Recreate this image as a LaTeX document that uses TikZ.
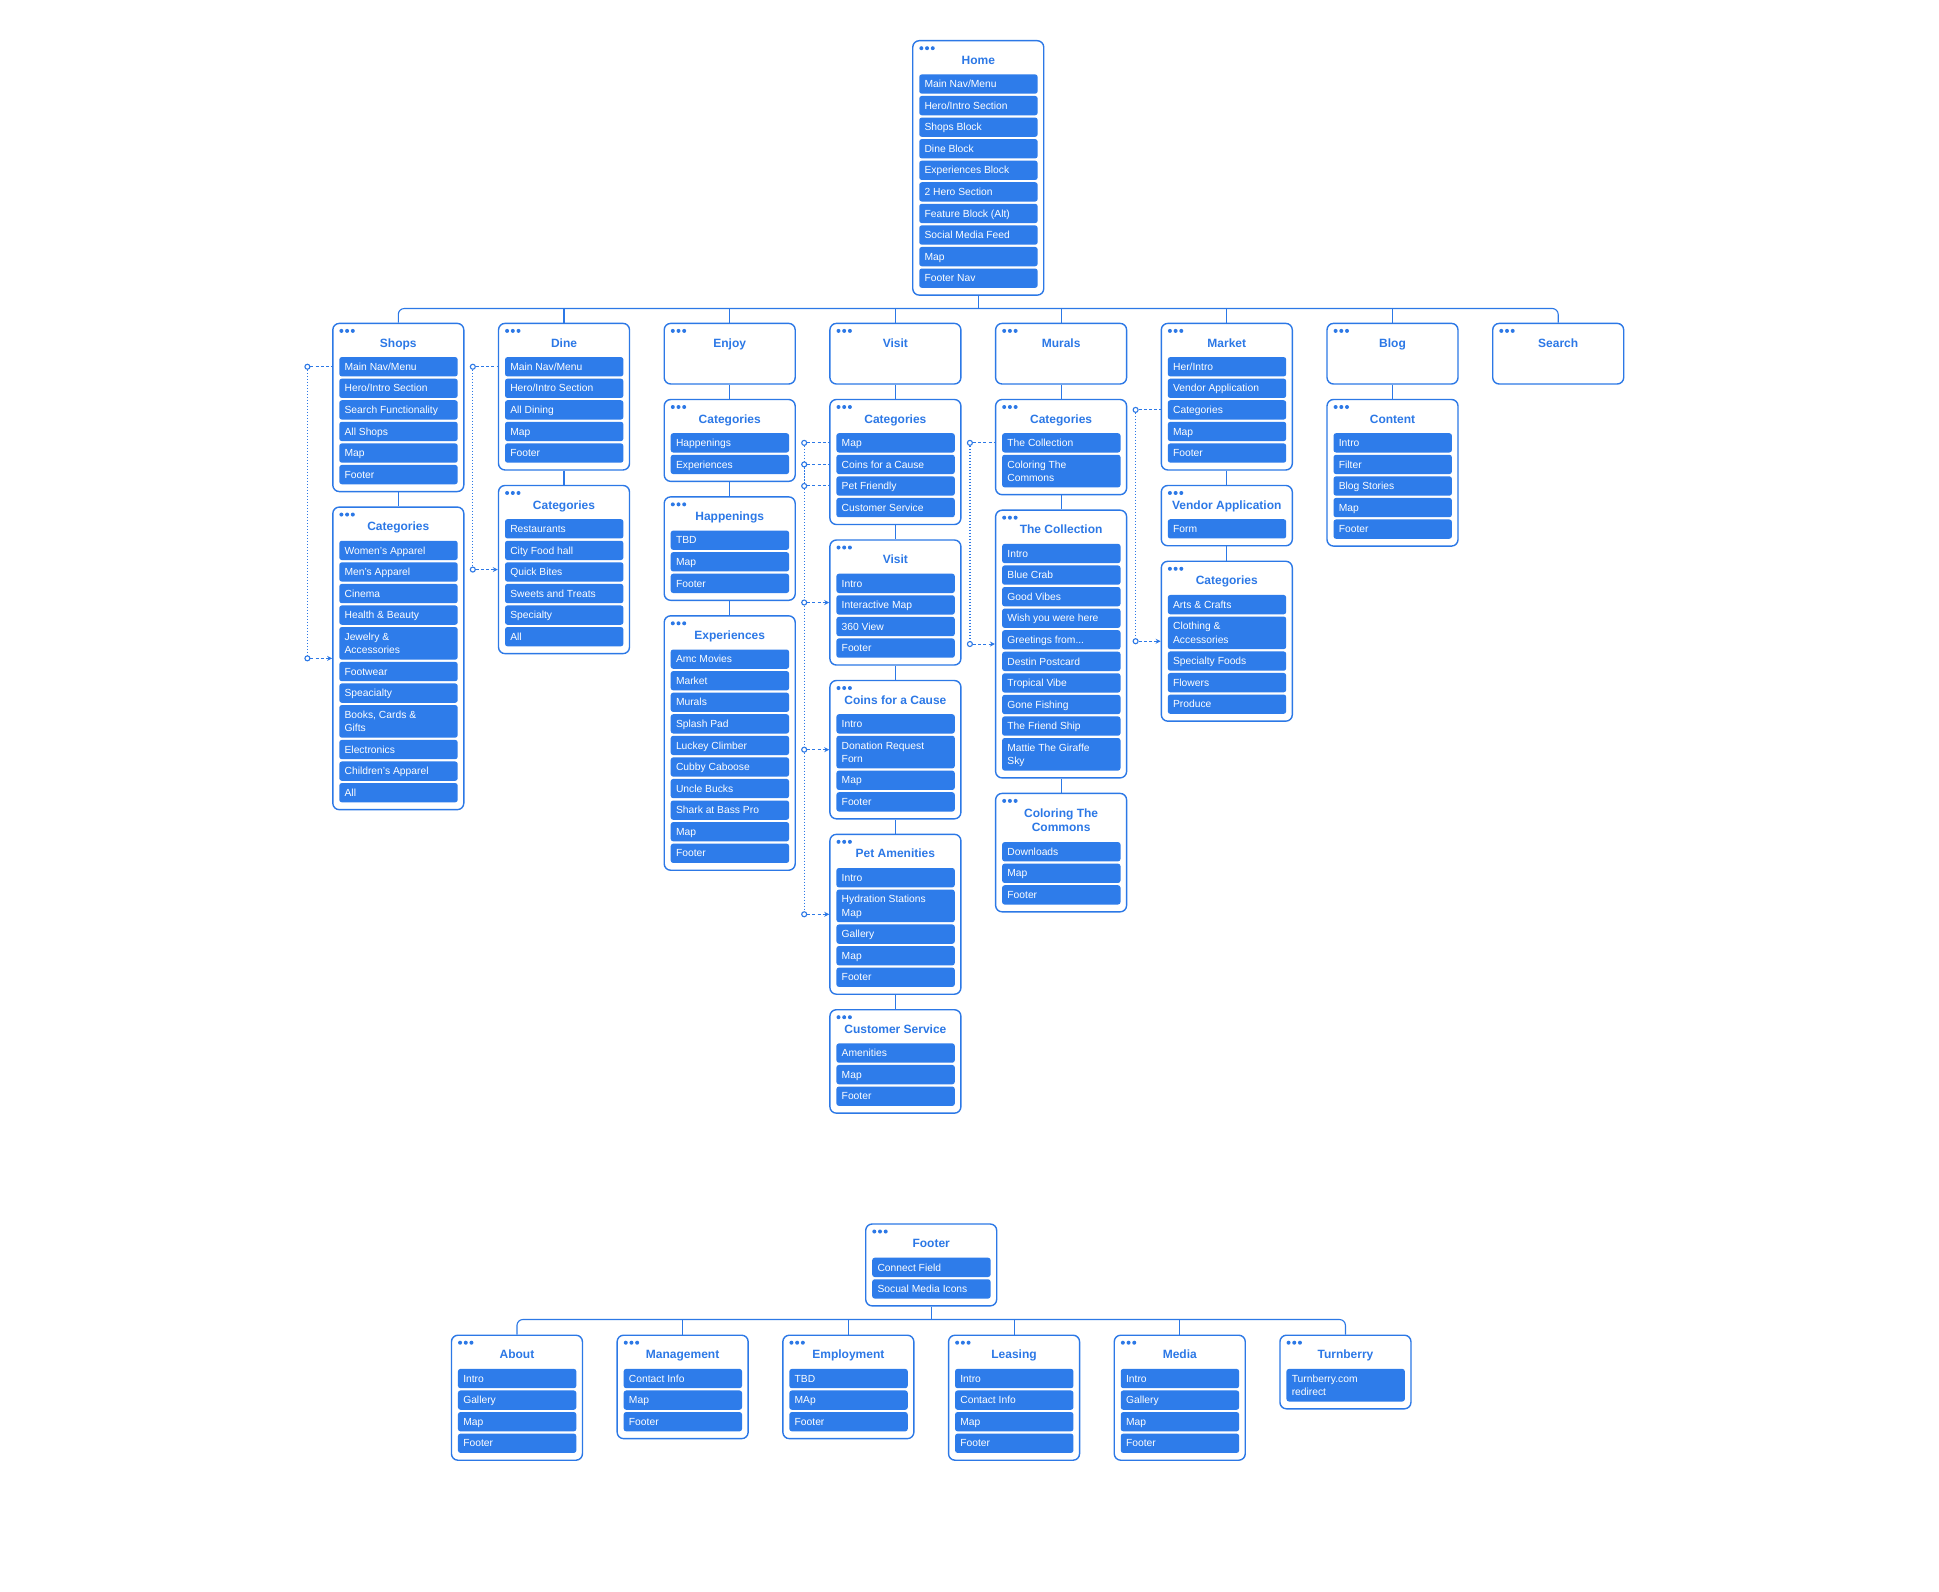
\documentclass[tikz,border=0pt]{standalone}
\usepackage{fontspec}
\setmainfont{Liberation Sans}
\usetikzlibrary{arrows.meta}
\definecolor{bl}{RGB}{46,124,234}
\definecolor{blo}{RGB}{44,120,230}

% ---------- box building macros ----------
\newcommand\BoxDots{%
  \foreach \i in {0,1,2}{\fill[blo] ({\bxcx-65.5+8.6+\i*5.7},{\bxtop+8.2}) circle (2pt);}%
}
\newcommand\BoxStart[4]{% name, cx, top, title
  \xdef\bxname{#1}%
  \pgfmathsetmacro\tmpa{#2}\xdef\bxcx{\tmpa}%
  \pgfmathsetmacro\tmpa{#3}\xdef\bxtop{\tmpa}%
  \pgfmathsetmacro\tmpa{#3+34.2}\xdef\cury{\tmpa}%
  \gdef\itn{0}%
  \node[ttl] (#1-t) at (\bxcx,\bxtop+20) {#4};
  \BoxDots
}
\newcommand\BoxStartTwo[5]{% name, cx, top, title line 1, title line 2
  \xdef\bxname{#1}%
  \pgfmathsetmacro\tmpa{#2}\xdef\bxcx{\tmpa}%
  \pgfmathsetmacro\tmpa{#3}\xdef\bxtop{\tmpa}%
  \pgfmathsetmacro\tmpa{#3+34.2+15}\xdef\cury{\tmpa}%
  \gdef\itn{0}%
  \node[ttl] (#1-t) at (\bxcx,\bxtop+20) {#4};
  \node[ttl] (#1-tb) at (\bxcx,\bxtop+34.6) {#5};
  \BoxDots
}
\newcommand\Itm[1]{%
  \pgfmathtruncatemacro\tmpn{\itn+1}\xdef\itn{\tmpn}%
  \node[itm, minimum height=19.3pt, anchor=north west] (\bxname-\itn) at (\bxcx-59.2,\cury) {};
  \node[itt, anchor=base west] (\bxname-\itn-x) at (\bxcx-53.9,\cury+13.5) {#1};
  \pgfmathsetmacro\tmpa{\cury+21.57}\xdef\cury{\tmpa}%
}
\newcommand\ItmTwo[2]{%
  \pgfmathtruncatemacro\tmpn{\itn+1}\xdef\itn{\tmpn}%
  \node[itm, minimum height=32.6pt, anchor=north west] (\bxname-\itn) at (\bxcx-59.2,\cury) {};
  \node[itt, anchor=base west] (\bxname-\itn-x) at (\bxcx-53.9,\cury+13.5) {#1};
  \node[itt, anchor=base west] (\bxname-\itn-y) at (\bxcx-53.9,\cury+26.8) {#2};
  \pgfmathsetmacro\tmpa{\cury+34.87}\xdef\cury{\tmpa}%
}
\newcommand\BoxEnd{%
  \pgfmathsetmacro\tmpa{\cury-2.27+6.8}\xdef\lastbottom{\tmpa}%
  \pgfmathsetmacro\tmph{\lastbottom-\bxtop}%
  \node[bxs, minimum height=\tmph pt, anchor=north] (\bxname) at (\bxcx,\bxtop) {};
}
\newcommand\BoxEndEmpty{%
  \pgfmathsetmacro\tmpa{\bxtop+60.6}\xdef\lastbottom{\tmpa}%
  \node[bxs, minimum height=60.6pt, anchor=north] (\bxname) at (\bxcx,\bxtop) {};
}

\begin{document}
\begin{tikzpicture}[x=1pt,y=-1pt,
  bxs/.style={draw=blo, line width=1.4pt, rounded corners=6.5pt, inner sep=0pt, minimum width=131pt},
  itm/.style={fill=bl, rounded corners=2.5pt, inner sep=0pt, minimum width=118.4pt},
  itt/.style={text=white, font=\fontsize{10.3}{13}\selectfont, inner sep=0pt},
  ttl/.style={text=blo, font=\bfseries\fontsize{12}{14}\selectfont, inner sep=0pt, text height=8.6pt, text depth=0pt},
  ln/.style={draw=blo, line width=1.1pt},
  hd/.style={draw=blo, line width=1pt, dash pattern=on 3pt off 2.2pt},
  vd/.style={draw=blo, line width=1.2pt, dash pattern=on 1.3pt off 1.7pt},
  port/.style={circle, draw=blo, fill=white, line width=1.1pt, inner sep=0pt, minimum size=5pt},
  arrowend/.style={-{Stealth[length=5pt,width=5pt]}}
]
\fill[white] (0,0) rectangle (1939,1592);
\useasboundingbox (0,0) rectangle (1939,1592);

% ---------------- Home ----------------
\BoxStart{Home}{978.25}{40}{Home}
\Itm{Main Nav/Menu}\Itm{Hero/Intro Section}\Itm{Shops Block}\Itm{Dine Block}
\Itm{Experiences Block}\Itm{2 Hero Section}\Itm{Feature Block (Alt)}
\Itm{Social Media Feed}\Itm{Map}\Itm{Footer Nav}
\BoxEnd

% ---------------- Shops ----------------
\BoxStart{Shops}{398.3}{322.7}{Shops}
\Itm{Main Nav/Menu}\Itm{Hero/Intro Section}\Itm{Search Functionality}
\Itm{All Shops}\Itm{Map}\Itm{Footer}
\BoxEnd
\BoxStart{ShopsCat}{398.3}{\lastbottom+15.5}{Categories}
\Itm{Women’s Apparel}\Itm{Men’s Apparel}\Itm{Cinema}\Itm{Health \& Beauty}
\ItmTwo{Jewelry \&}{Accessories}\Itm{Footwear}\Itm{Speacialty}
\ItmTwo{Books, Cards \&}{Gifts}\Itm{Electronics}\Itm{Children’s Apparel}\Itm{All}
\BoxEnd

% ---------------- Dine ----------------
\BoxStart{Dine}{564.0}{322.7}{Dine}
\Itm{Main Nav/Menu}\Itm{Hero/Intro Section}\Itm{All Dining}\Itm{Map}\Itm{Footer}
\BoxEnd
\BoxStart{DineCat}{564.0}{\lastbottom+15.5}{Categories}
\Itm{Restaurants}\Itm{City Food hall}\Itm{Quick Bites}\Itm{Sweets and Treats}
\Itm{Specialty}\Itm{All}
\BoxEnd

% ---------------- Enjoy ----------------
\BoxStart{Enjoy}{729.7}{322.7}{Enjoy}
\BoxEndEmpty
\BoxStart{EnjoyCat}{729.7}{\lastbottom+15.5}{Categories}
\Itm{Happenings}\Itm{Experiences}
\BoxEnd
\BoxStart{Happ}{729.7}{\lastbottom+15.5}{Happenings}
\Itm{TBD}\Itm{Map}\Itm{Footer}
\BoxEnd
\BoxStart{Exper}{729.7}{\lastbottom+15.5}{Experiences}
\Itm{Amc Movies}\Itm{Market}\Itm{Murals}\Itm{Splash Pad}\Itm{Luckey Climber}
\Itm{Cubby Caboose}\Itm{Uncle Bucks}\Itm{Shark at Bass Pro}\Itm{Map}\Itm{Footer}
\BoxEnd

% ---------------- Visit ----------------
\BoxStart{Visit}{895.4}{322.7}{Visit}
\BoxEndEmpty
\BoxStart{VisitCat}{895.4}{\lastbottom+15.5}{Categories}
\Itm{Map}\Itm{Coins for a Cause}\Itm{Pet Friendly}\Itm{Customer Service}
\BoxEnd
\BoxStart{VisitB}{895.4}{\lastbottom+15.5}{Visit}
\Itm{Intro}\Itm{Interactive Map}\Itm{360 View}\Itm{Footer}
\BoxEnd
\BoxStart{Coins}{895.4}{\lastbottom+15.5}{Coins for a Cause}
\Itm{Intro}\ItmTwo{Donation Request}{Forn}\Itm{Map}\Itm{Footer}
\BoxEnd
\BoxStart{Pet}{895.4}{\lastbottom+15.5}{Pet Amenities}
\Itm{Intro}\ItmTwo{Hydration Stations}{Map}\Itm{Gallery}\Itm{Map}\Itm{Footer}
\BoxEnd
\BoxStart{CustS}{895.4}{\lastbottom+15.5}{Customer Service}
\Itm{Amenities}\Itm{Map}\Itm{Footer}
\BoxEnd

% ---------------- Murals ----------------
\BoxStart{Murals}{1061.1}{322.7}{Murals}
\BoxEndEmpty
\BoxStart{MuralsCat}{1061.1}{\lastbottom+15.5}{Categories}
\Itm{The Collection}\ItmTwo{Coloring The}{Commons}
\BoxEnd
\BoxStart{Coll}{1061.1}{\lastbottom+15.5}{The Collection}
\Itm{Intro}\Itm{Blue Crab}\Itm{Good Vibes}\Itm{Wish you were here}
\Itm{Greetings from...}\Itm{Destin Postcard}\Itm{Tropical Vibe}\Itm{Gone Fishing}
\Itm{The Friend Ship}\ItmTwo{Mattie The Giraffe}{Sky}
\BoxEnd
\BoxStartTwo{Color}{1061.1}{\lastbottom+15.5}{Coloring The}{Commons}
\Itm{Downloads}\Itm{Map}\Itm{Footer}
\BoxEnd

% ---------------- Market ----------------
\BoxStart{Market}{1226.8}{322.7}{Market}
\Itm{Her/Intro}\Itm{Vendor Application}\Itm{Categories}\Itm{Map}\Itm{Footer}
\BoxEnd
\BoxStart{Vendor}{1226.8}{\lastbottom+15.5}{Vendor Application}
\Itm{Form}
\BoxEnd
\BoxStart{MarketCat}{1226.8}{\lastbottom+15.5}{Categories}
\Itm{Arts \& Crafts}\ItmTwo{Clothing \&}{Accessories}\Itm{Specialty Foods}
\Itm{Flowers}\Itm{Produce}
\BoxEnd

% ---------------- Blog ----------------
\BoxStart{Blog}{1392.5}{322.7}{Blog}
\BoxEndEmpty
\BoxStart{Content}{1392.5}{\lastbottom+15.5}{Content}
\Itm{Intro}\Itm{Filter}\Itm{Blog Stories}\Itm{Map}\Itm{Footer}
\BoxEnd

% ---------------- Search ----------------
\BoxStart{Search}{1558.2}{322.7}{Search}
\BoxEndEmpty

% ---------------- Footer section ----------------
\BoxStart{Footer}{931.2}{1223.3}{Footer}
\Itm{Connect Field}\Itm{Socual Media Icons}
\BoxEnd
\BoxStart{About}{516.95}{1334.5}{About}
\Itm{Intro}\Itm{Gallery}\Itm{Map}\Itm{Footer}
\BoxEnd
\BoxStart{Management}{682.65}{1334.5}{Management}
\Itm{Contact Info}\Itm{Map}\Itm{Footer}
\BoxEnd
\BoxStart{Employment}{848.35}{1334.5}{Employment}
\Itm{TBD}\Itm{MAp}\Itm{Footer}
\BoxEnd
\BoxStart{Leasing}{1014.05}{1334.5}{Leasing}
\Itm{Intro}\Itm{Contact Info}\Itm{Map}\Itm{Footer}
\BoxEnd
\BoxStart{Media}{1179.75}{1334.5}{Media}
\Itm{Intro}\Itm{Gallery}\Itm{Map}\Itm{Footer}
\BoxEnd
\BoxStart{Turnberry}{1345.45}{1334.5}{Turnberry}
\ItmTwo{Turnberry.com}{redirect}
\BoxEnd

% ---------------- tree connectors ----------------
\coordinate (hub) at (978.25,308.5);
\draw[ln] (Home.south) -- (hub);
\draw[ln, rounded corners=6pt] (Shops.north) -- (Shops.north |- hub) -- (Search.north |- hub) -- (Search.north);
\foreach \n in {Dine,Enjoy,Visit,Murals,Market,Blog}{\draw[ln] (\n.north) -- (\n.north |- hub);}

\draw[ln] (Shops.south) -- (ShopsCat.north);
\draw[ln] (Dine.south) -- (DineCat.north);
\draw[ln] (Enjoy.south) -- (EnjoyCat.north);
\draw[ln] (EnjoyCat.south) -- (Happ.north);
\draw[ln] (Happ.south) -- (Exper.north);
\draw[ln] (Visit.south) -- (VisitCat.north);
\draw[ln] (VisitCat.south) -- (VisitB.north);
\draw[ln] (VisitB.south) -- (Coins.north);
\draw[ln] (Coins.south) -- (Pet.north);
\draw[ln] (Pet.south) -- (CustS.north);
\draw[ln] (Murals.south) -- (MuralsCat.north);
\draw[ln] (MuralsCat.south) -- (Coll.north);
\draw[ln] (Coll.south) -- (Color.north);
\draw[ln] (Market.south) -- (Vendor.north);
\draw[ln] (Vendor.south) -- (MarketCat.north);
\draw[ln] (Blog.south) -- (Content.north);

\coordinate (hubf) at (931.2,1319.5);
\draw[ln] (Footer.south) -- (hubf);
\draw[ln, rounded corners=6pt] (About.north) -- (About.north |- hubf) -- (Turnberry.north |- hubf) -- (Turnberry.north);
\foreach \n in {Management,Employment,Leasing,Media}{\draw[ln] (\n.north) -- (\n.north |- hubf);}

% ---------------- dotted cross links ----------------
% Shops
\coordinate (qS) at ([xshift=-24.7pt]Shops.west);
\node[port] (pS1) at (qS |- Shops-1) {};
\node[port] (pS2) at (qS |- ShopsCat.west) {};
\draw[hd] (pS1) -- (Shops.west |- pS1);
\draw[vd] (pS1) -- (pS2);
\draw[hd, arrowend] (pS2) -- (ShopsCat.west);
% Dine
\coordinate (qD) at ([xshift=-25pt]Dine.west);
\node[port] (pD1) at (qD |- Dine-1) {};
\node[port] (pD2) at (qD |- DineCat.west) {};
\draw[hd] (pD1) -- (Dine.west |- pD1);
\draw[vd] (pD1) -- (pD2);
\draw[hd, arrowend] (pD2) -- (DineCat.west);
% Visit
\coordinate (qV) at ([xshift=-25pt]VisitCat.west);
\node[port] (pV1) at (qV |- VisitCat-1) {};
\node[port] (pV2) at (qV |- VisitCat-2) {};
\node[port] (pV3) at (qV |- VisitCat-3) {};
\node[port] (pV4) at (qV |- VisitB.west) {};
\node[port] (pV5) at (qV |- Coins.west) {};
\node[port] (pV6) at (qV |- Pet.west) {};
\draw[hd] (pV1) -- (VisitCat.west |- pV1);
\draw[hd] (pV2) -- (VisitCat.west |- pV2);
\draw[hd] (pV3) -- (VisitCat.west |- pV3);
\draw[vd] (pV1) -- (pV2);
\draw[vd] (pV2) -- (pV3);
\draw[vd] (pV3) -- (pV4);
\draw[vd] (pV4) -- (pV5);
\draw[vd] (pV5) -- (pV6);
\draw[hd, arrowend] (pV4) -- (VisitB.west);
\draw[hd, arrowend] (pV5) -- (Coins.west);
\draw[hd, arrowend] (pV6) -- (Pet.west);
% Murals
\coordinate (qM) at ([xshift=-25pt]MuralsCat.west);
\node[port] (pM1) at (qM |- MuralsCat-1) {};
\node[port] (pM2) at (qM |- Coll.west) {};
\draw[hd] (pM1) -- (MuralsCat.west |- pM1);
\draw[vd] (pM1) -- (pM2);
\draw[hd, arrowend] (pM2) -- (Coll.west);
% Market
\coordinate (qK) at ([xshift=-25pt]Market.west);
\node[port] (pK1) at (qK |- Market-3) {};
\node[port] (pK2) at (qK |- MarketCat.west) {};
\draw[hd] (pK1) -- (Market.west |- pK1);
\draw[vd] (pK1) -- (pK2);
\draw[hd, arrowend] (pK2) -- (MarketCat.west);
\end{tikzpicture}
\end{document}
